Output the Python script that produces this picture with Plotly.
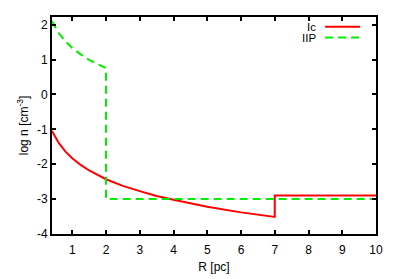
import plotly.graph_objects as go

# Ic series (red)
ic_r = [0.4, 0.5, 0.6, 0.8, 1.0, 1.25, 1.5, 2.0, 2.5, 3.0, 3.5, 4.0, 5.0, 6.0, 7.0, 7.0, 10.0]
ic_n = [-1.05, -1.24, -1.39, -1.64, -1.83, -2.02, -2.18, -2.43, -2.62, -2.77, -2.91, -3.02, -3.22, -3.38, -3.51, -2.9, -2.9]

# IIP series (green)
iip_r = [0.4, 0.5, 0.6, 0.8, 1.0, 1.25, 1.5, 1.75, 2.0, 2.0, 10.0]
iip_n = [2.10, 1.91, 1.76, 1.52, 1.33, 1.15, 0.99, 0.87, 0.76, -3.0, -3.0]

x_ticks = [1, 2, 3, 4, 5, 6, 7, 8, 9, 10]
y_ticks = [-4, -3, -2, -1, 0, 1, 2]

RED = "#ff0000"
GREEN = "#00ee00"

fig = go.Figure()
fig.add_trace(go.Scatter(x=ic_r, y=ic_n, mode="lines", name="Ic",
                         line=dict(color=RED, width=2)))
fig.add_trace(go.Scatter(x=iip_r, y=iip_n, mode="lines", name="IIP",
                         line=dict(color=GREEN, width=2, dash="8px,5px")))

font = dict(family="Liberation Sans, Arial, sans-serif", size=12, color="black")

# page body has an 8px default margin, so the figure is sized/offset accordingly
fig.update_layout(
    width=391, height=271,
    margin=dict(l=44, r=23, t=7, b=40),
    paper_bgcolor="white", plot_bgcolor="white",
    showlegend=False,
    font=font,
    xaxis=dict(range=[0.4, 10], tickvals=x_ticks, ticktext=[str(v) for v in x_ticks],
               showline=True, linecolor="black", linewidth=2, mirror="ticks",
               ticks="inside", ticklen=4, tickwidth=1.5, tickcolor="black",
               ticklabelstandoff=4,
               showgrid=False, zeroline=False,
               title=dict(text="R [pc]", standoff=6, font=font)),
    yaxis=dict(range=[-4, 2.22], tickvals=y_ticks, ticktext=[str(v) for v in y_ticks],
               showline=True, linecolor="black", linewidth=2, mirror="ticks",
               ticks="inside", ticklen=4, tickwidth=1.5, tickcolor="black",
               showgrid=False, zeroline=False,
               title=dict(text="log n [cm<sup>-3</sup>]", standoff=6, font=font)),
)

# gnuplot-style legend: text right-aligned, sample line to the right
legend_font = dict(family="Liberation Sans, Arial, sans-serif", size=11.5, color="black")
legend_items = [("Ic", RED, "solid", 0.955), ("IIP", GREEN, "8px,5px", 0.905)]
for label, color, dash, yy in legend_items:
    fig.add_annotation(xref="paper", yref="paper", x=0.818, y=yy, text=label,
                       showarrow=False, xanchor="right", yanchor="middle", font=legend_font,
                       borderpad=0, height=11)
    fig.add_shape(type="line", xref="paper", yref="paper", x0=0.843, x1=0.951, y0=yy, y1=yy,
                  line=dict(color=color, width=2, dash=dash))

fig.write_html("out.html")
